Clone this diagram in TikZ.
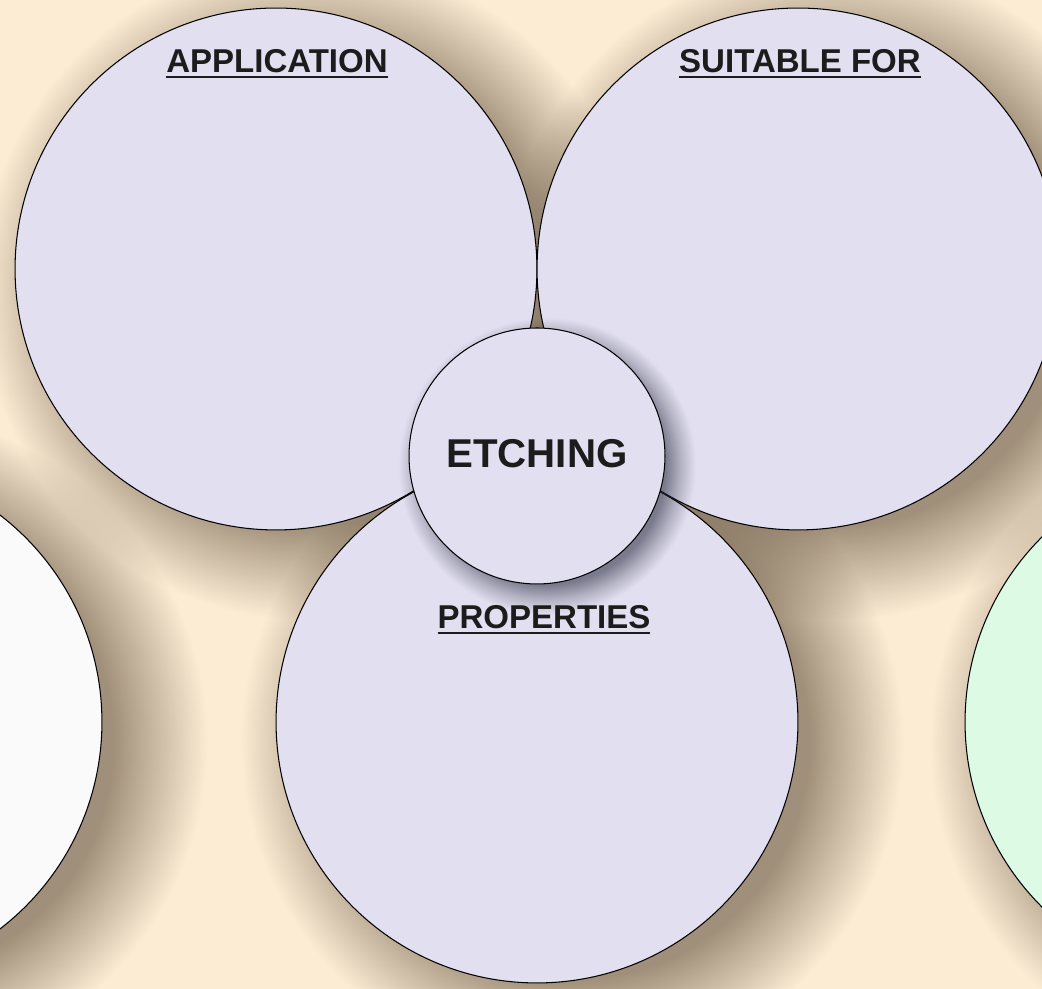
\documentclass[tikz,border=0pt]{standalone}
\usepackage{fontspec}
\setmainfont{Liberation Sans}
\usepackage{xcolor}
\usetikzlibrary{calc, positioning, fadings}
\definecolor{bgcream}{HTML}{FDECD4}
\definecolor{lavender}{HTML}{E2E0F0}
\definecolor{ghost}{HTML}{FAFAFA}
\definecolor{mint}{HTML}{DDFAE4}
\definecolor{shadowbrown}{HTML}{5A4A36}
\definecolor{shadowslate}{HTML}{28283C}
\definecolor{textdark}{HTML}{1C1C1C}
% soft ring fadings for the shadows (25bp = radius of the filled circle)
\pgfdeclareradialshading{bigring}{\pgfpointorigin}{color(0bp)=(white); color(17.35bp)=(white); color(24.26bp)=(black); color(50bp)=(black)}
\pgfdeclarefading{bigfade}{\pgfuseshading{bigring}}
\pgfdeclareradialshading{smallring}{\pgfpointorigin}{color(0bp)=(white); color(19.67bp)=(white); color(22.2bp)=(black!55!white); color(24.67bp)=(black); color(50bp)=(black)}
\pgfdeclarefading{smallfade}{\pgfuseshading{smallring}}
\tikzstyle{bubble} = [circle, minimum size=10.44cm, inner sep=0pt, draw=black, line width=0.6pt, fill=lavender, text=textdark]
\tikzstyle{heading} = [inner sep=0pt, outer sep=0pt, text=textdark, font=\fontsize{18.8}{22}\selectfont\bfseries]
\tikzstyle{underrule} = [line width=1.3pt, draw=textdark]
\tikzstyle{bigshadow} = [fill=shadowbrown, fill opacity=0.57, path fading=bigfade]
\tikzstyle{smallshadow} = [fill=shadowslate, fill opacity=0.55, path fading=smallfade]

\begin{document}
\begin{tikzpicture}[x=0.02cm, y=0.02cm]
    \useasboundingbox (0,0) rectangle (1042,989);
    \clip (0,0) rectangle (1042,989);
    \fill [bgcream] (0,0) rectangle (1042,989);

    \coordinate (appc) at (276,720);
    \coordinate (suitc) at (798,720);
    \coordinate (propc) at (537,267);
    \coordinate (leftc) at (-159,267);
    \coordinate (rightc) at (1226,267);
    \coordinate (etchc) at (537,533);

    % soft shadows round the big circles
    \foreach \c in {appc,suitc,propc,leftc,rightc}
        \fill [bigshadow] ($(\c)+(35,-20)$) circle [radius=6.8cm];

    \node (app) [bubble] at (appc) {};
    \node (suit) [bubble] at (suitc) {};
    \node (prop) [bubble] at (propc) {};
    \node (leftbub) [bubble, fill=ghost] at (leftc) {};
    \node (rightbub) [bubble, fill=mint] at (rightc) {};

    % drop shadow of the middle circle
    \fill [smallshadow] ($(etchc)+(10,-10)$) circle [radius=3cm];
    \node (etch) [bubble, minimum size=5.12cm, text depth=3.4pt, font=\fontsize{22.9}{27}\selectfont\bfseries] at (etchc) {ETCHING};

    \node (apphead) [heading, anchor=base] at ($(app.north)+(1,-65)$) {APPLICATION};
    \node (suithead) [heading, anchor=base] at ($(suit.north)+(2,-65)$) {SUITABLE FOR};
    \node (prophead) [heading, anchor=base] at ($(etch.south)+(7,-44)$) {PROPERTIES};
    \foreach \h in {apphead,suithead,prophead}
        \draw [underrule] ([yshift=-2.4pt]\h.base west) -- ([yshift=-2.4pt]\h.base east);
\end{tikzpicture}
\end{document}
